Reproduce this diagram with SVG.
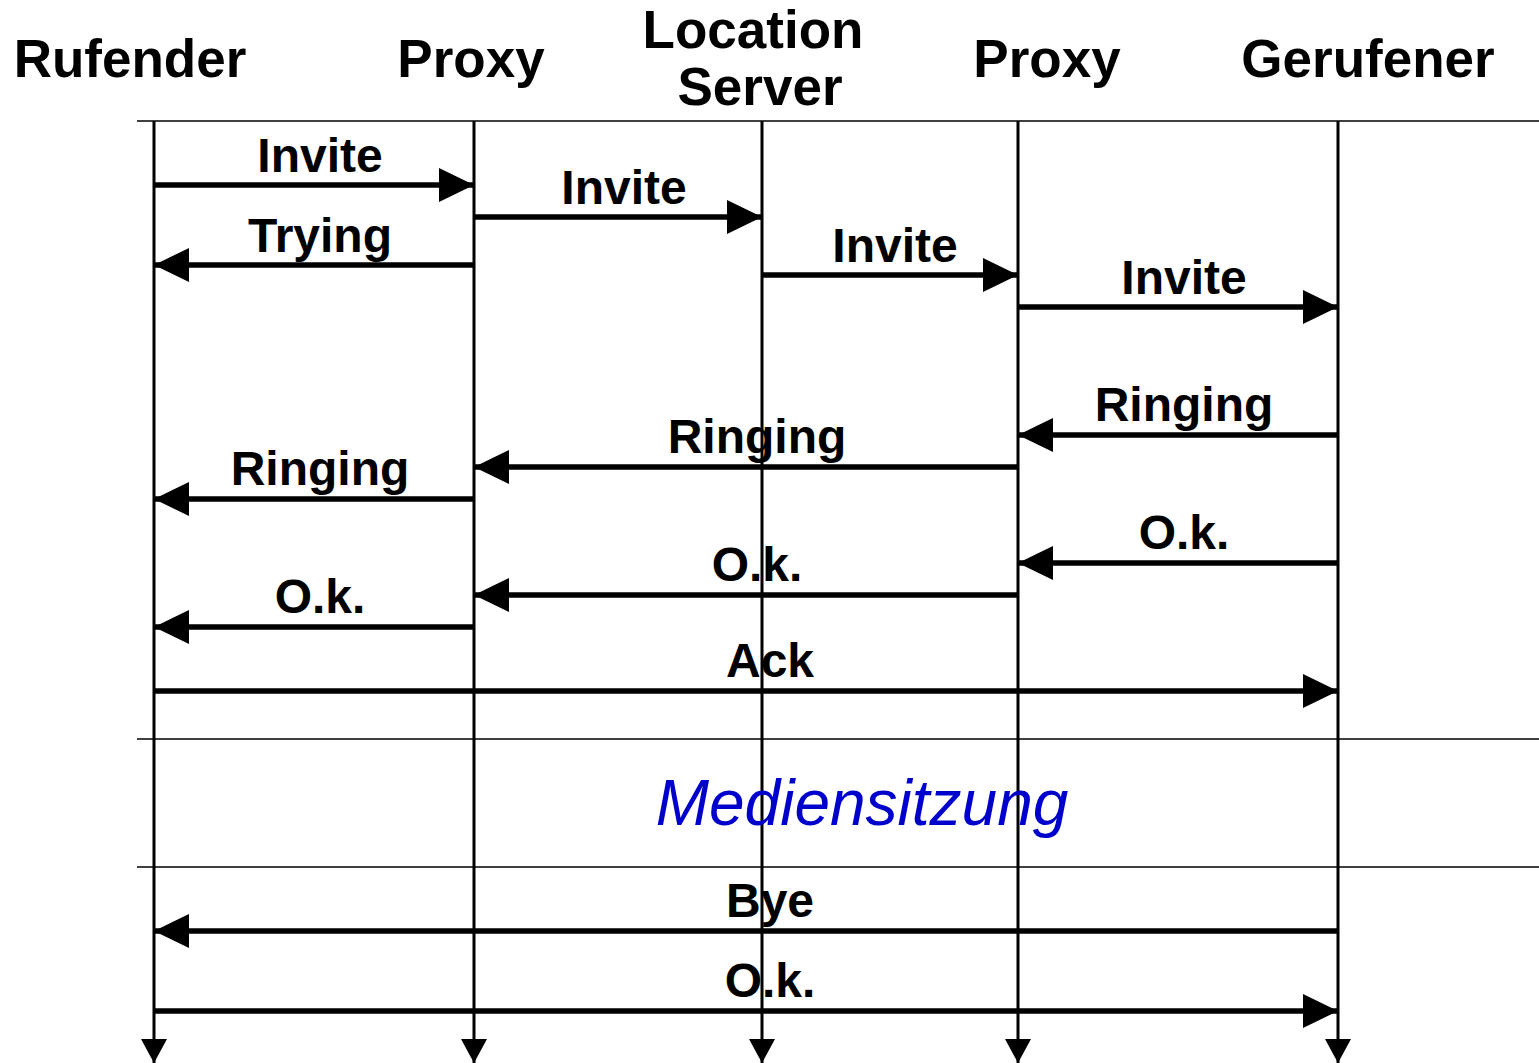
<svg xmlns="http://www.w3.org/2000/svg" width="1539" height="1063" viewBox="0 0 1539 1063">
<style>
.hdr{font-family:"Liberation Sans",Arial,sans-serif;font-weight:bold;font-size:53px;fill:#000;text-anchor:middle}
.lbl{font-family:"Liberation Sans",Arial,sans-serif;font-weight:bold;font-size:48px;fill:#000;text-anchor:middle}
.life{stroke:#000;stroke-width:3;fill:none}
.sep{stroke:#000;stroke-width:1.5;fill:none}
.msg{stroke:#000;stroke-width:5.5;fill:none}
.media{font-family:"Liberation Sans",Arial,sans-serif;font-style:italic;font-size:64px;fill:#0000CC;text-anchor:middle}
</style>
<defs>
<marker id="ah" markerUnits="userSpaceOnUse" markerWidth="36" markerHeight="36" refX="35" refY="17" orient="auto"><path d="M0,0 L35,17 L0,34 z" fill="#000"/></marker>
<marker id="lh" markerUnits="userSpaceOnUse" markerWidth="26" markerHeight="28" refX="24" refY="13" orient="auto"><path d="M0,0 L24,13 L0,26 z" fill="#000"/></marker>
</defs>
<rect width="1539" height="1063" fill="#fff"/>
<g id="separators">
<line class="sep" x1="137" y1="121" x2="1539" y2="121"/>
<line class="sep" x1="137" y1="739" x2="1539" y2="739"/>
<line class="sep" x1="137" y1="867" x2="1539" y2="867"/>
</g>
<g id="rufender"><text class="hdr" x="130" y="77">Rufender</text><line class="life" x1="154" y1="121" x2="154" y2="1063" marker-end="url(#lh)"/></g>
<g id="proxy1"><text class="hdr" x="471" y="77">Proxy</text><line class="life" x1="474" y1="121" x2="474" y2="1063" marker-end="url(#lh)"/></g>
<g id="location"><text class="hdr" x="753" y="48">Location</text><text class="hdr" x="760" y="105">Server</text><line class="life" x1="762" y1="121" x2="762" y2="1063" marker-end="url(#lh)"/></g>
<g id="proxy2"><text class="hdr" x="1047" y="77">Proxy</text><line class="life" x1="1018" y1="121" x2="1018" y2="1063" marker-end="url(#lh)"/></g>
<g id="gerufener"><text class="hdr" x="1368" y="77">Gerufener</text><line class="life" x1="1338" y1="121" x2="1338" y2="1063" marker-end="url(#lh)"/></g>
<g id="connectors">
<line class="msg" x1="154" y1="185" x2="474" y2="185" marker-end="url(#ah)"/>
<line class="msg" x1="474" y1="217" x2="762" y2="217" marker-end="url(#ah)"/>
<line class="msg" x1="474" y1="265" x2="154" y2="265" marker-end="url(#ah)"/>
<line class="msg" x1="762" y1="275" x2="1018" y2="275" marker-end="url(#ah)"/>
<line class="msg" x1="1018" y1="307" x2="1338" y2="307" marker-end="url(#ah)"/>
<line class="msg" x1="1338" y1="435" x2="1018" y2="435" marker-end="url(#ah)"/>
<line class="msg" x1="1018" y1="467" x2="474" y2="467" marker-end="url(#ah)"/>
<line class="msg" x1="474" y1="499" x2="154" y2="499" marker-end="url(#ah)"/>
<line class="msg" x1="1338" y1="563" x2="1018" y2="563" marker-end="url(#ah)"/>
<line class="msg" x1="1018" y1="595" x2="474" y2="595" marker-end="url(#ah)"/>
<line class="msg" x1="474" y1="627" x2="154" y2="627" marker-end="url(#ah)"/>
<line class="msg" x1="154" y1="691" x2="1338" y2="691" marker-end="url(#ah)"/>
<line class="msg" x1="1338" y1="931" x2="154" y2="931" marker-end="url(#ah)"/>
<line class="msg" x1="154" y1="1011" x2="1338" y2="1011" marker-end="url(#ah)"/>
</g>
<g id="labels">
<text class="lbl" x="320" y="172">Invite</text>
<text class="lbl" x="624" y="204">Invite</text>
<text class="lbl" x="320" y="252">Trying</text>
<text class="lbl" x="895" y="262">Invite</text>
<text class="lbl" x="1184" y="294">Invite</text>
<text class="lbl" x="1184" y="421">Ringing</text>
<text class="lbl" x="757" y="453">Ringing</text>
<text class="lbl" x="320" y="485">Ringing</text>
<text class="lbl" x="1184" y="549">O.k.</text>
<text class="lbl" x="757" y="581">O.k.</text>
<text class="lbl" x="320" y="613">O.k.</text>
<text class="lbl" x="770" y="677">Ack</text>
<text class="lbl" x="770" y="917">Bye</text>
<text class="lbl" x="770" y="997">O.k.</text>
</g>
<g id="mediensitzung"><text class="media" x="862" y="825">Mediensitzung</text></g>
</svg>
